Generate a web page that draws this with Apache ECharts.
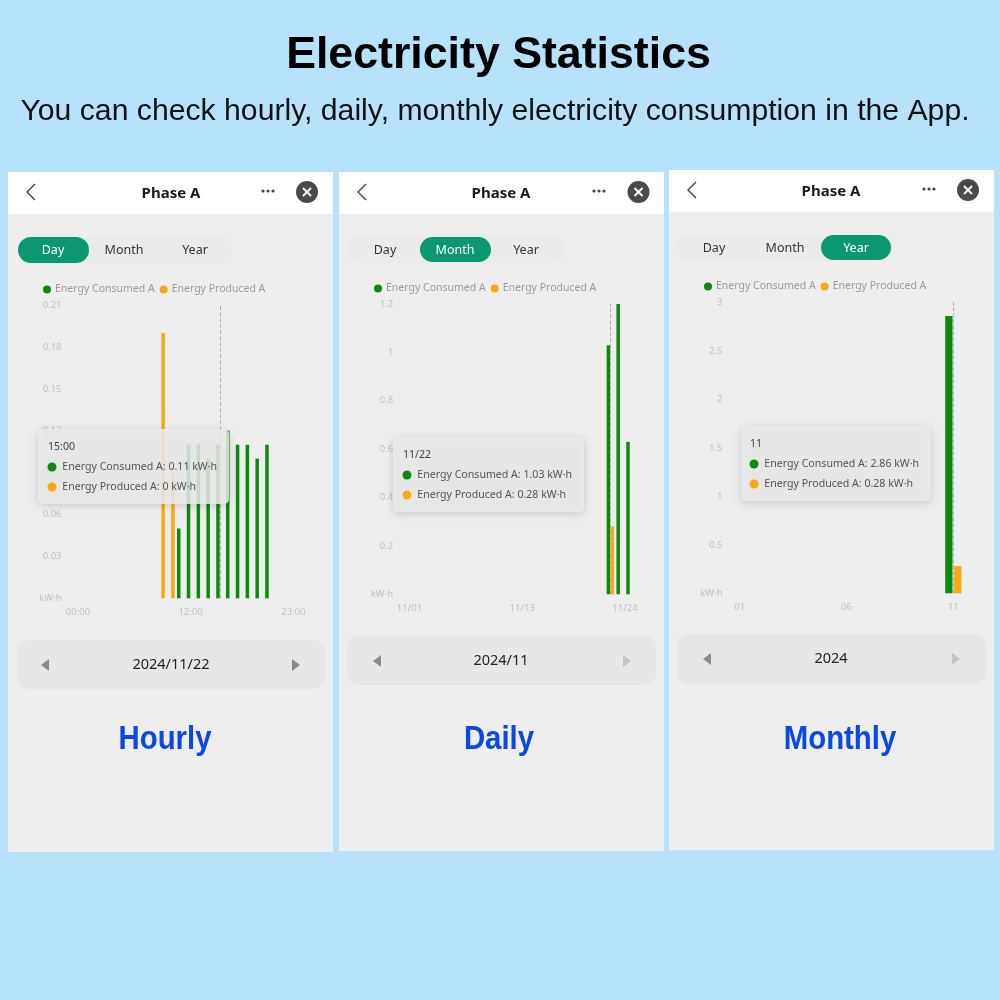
<!DOCTYPE html>
<html><head><meta charset="utf-8">
<style>html,body{margin:0;padding:0;background:#b6e2fa}#c{width:1000px;height:1000px}</style>
<script src="https://cdn.jsdelivr.net/npm/echarts@6/dist/echarts.min.js"></script>
</head><body><div id="c"></div>
<script>
const seriesNames = ['Energy Consumed A', 'Energy Produced A'];
const hourCats = ['00:00','01:00','02:00','03:00','04:00','05:00','06:00','07:00','08:00','09:00','10:00','11:00','12:00','13:00','14:00','15:00','16:00','17:00','18:00','19:00','20:00','21:00','22:00','23:00'];
const hourConsumed = [0,0,0,0,0,0,0,0,0,0,0,0.05,0.11,0.11,0.10,0.11,0.12,0.11,0.11,0.10,0.11,0,0,0];
const hourProduced = [0,0,0,0,0,0,0,0,0,0.19,0.09,0,0,0,0,0,0,0,0,0,0,0,0,0];
const hourLabels = ['00:00','12:00','23:00'];
const dayCats = ['11/01','11/02','11/03','11/04','11/05','11/06','11/07','11/08','11/09','11/10','11/11','11/12','11/13','11/14','11/15','11/16','11/17','11/18','11/19','11/20','11/21','11/22','11/23','11/24'];
const dayConsumed = [0,0,0,0,0,0,0,0,0,0,0,0,0,0,0,0,0,0,0,0,0,1.03,1.2,0.63];
const dayProduced = [0,0,0,0,0,0,0,0,0,0,0,0,0,0,0,0,0,0,0,0,0,0.28,0,0];
const dayLabels = ['11/01','11/13','11/24'];
const monthCats = ['01','02','03','04','05','06','07','08','09','10','11'];
const monthConsumed = [0,0,0,0,0,0,0,0,0,0,2.86];
const monthProduced = [0,0,0,0,0,0,0,0,0,0,0.28];
const monthLabels = ['01','06','11'];

const GREEN='#0b8a0b', ORANGE='#fba714', AXIS='#c2c2c2', UI='"Noto Sans",sans-serif';
const panels=[
 {x:8,w:325,y:172,h:680,hd:42,cats:hourCats,a:hourConsumed,b:hourProduced,labels:hourLabels,sel:'15:00',max:0.21,step:0.03,
  gl:68,gw:235.3,gt:305,gh:293.3,lx:43,ly:284,bw:3.5,gap:'15%',shift:[10,0,10],
  active:0,track:[18,236,214,28],pill:[18,71],seg:[53,124,195],segY:250,cx:171,cy:193,chev:31,dots:268,close:307,
  tip:[38,429],tipDx:0,bar:[17,640,308,49],date:'2024/11/22',dx:171,dy:665,al:45,ar:296,arDim:false,big:'Hourly',bx:165},
 {x:339,w:325,y:172,h:679,hd:42,cats:dayCats,a:dayConsumed,b:dayProduced,labels:dayLabels,sel:'11/22',max:1.2,step:0.2,
  gl:399.6,gw:235.3,gt:304,gh:290.3,lx:374,ly:283,bw:3.5,gap:'15%',shift:[10,0,10],
  active:1,track:[348,236,216,27],pill:[420,71],seg:[385,455,526],segY:250,cx:501,cy:193,chev:362,dots:599,close:638.5,
  tip:[393,437],tipDx:0,bar:[347,636,309,49],date:'2024/11',dx:501,dy:661,al:377,ar:627,arDim:true,big:'Daily',bx:499},
 {x:669,w:325,y:170,h:680,hd:42,cats:monthCats,a:monthConsumed,b:monthProduced,labels:monthLabels,sel:'11',max:3,step:0.5,
  gl:729,gw:235,gt:302.3,gh:291,lx:704,ly:281,bw:7.3,gap:'22%',shift:[0,0,0],
  active:2,track:[678,234,214,27],pill:[821,70],seg:[714,785,856],segY:248,cx:831,cy:191,chev:692,dots:929,close:968,
  tip:[740,426],tipDx:1.5,bar:[677,634,309,50],date:'2024',dx:831,dy:659,al:707,ar:956,arDim:true,big:'Monthly',bx:840}
];
const el=[];
const txt=(x,y,t,font,fill,z,align)=>el.push({type:'text',z:z||1,style:{x,y,text:t,font,fill,textAlign:align||'center',textVerticalAlign:'middle'}});
const rect=(x,y,w,h,fill,r,z,extra)=>el.push({type:'rect',z:z||0,shape:{x,y,width:w,height:h,r:r||0},style:Object.assign({fill},extra||{})});
const circ=(cx,cy,r,fill,z)=>el.push({type:'circle',z:z||1,shape:{cx,cy,r},style:{fill}});
const tri=(pts,fill)=>el.push({type:'polygon',z:1,shape:{points:pts},style:{fill}});
const line=(pts,stroke,w)=>el.push({type:'polyline',z:1,shape:{points:pts},style:{stroke,lineWidth:w,fill:'none'}});

txt(498.5,56,'Electricity Statistics','bold 44.7px "Liberation Sans"','#000');
txt(495,112,'You can check hourly, daily, monthly electricity consumption in the App.','30.2px "Liberation Sans"','#111');

const grids=[],xAxes=[],yAxes=[],series=[],legends=[];
panels.forEach((p,i)=>{
  rect(p.x,p.y,p.w,p.h,'#eeeeee',0,-2);
  rect(p.x,p.y,p.w,p.hd,'#ffffff',0,-1);
  txt(p.cx,p.cy+1,'Phase A','bold 15px '+UI,'#1a1a1a');
  line([[p.chev+4,p.cy-9],[p.chev-4,p.cy-1],[p.chev+4,p.cy+7]],'#444',1.4);
  [-5,0,5].forEach(d=>circ(p.dots+d,p.cy-2,1.6,'#444'));
  circ(p.close,p.cy-1,11,'#4a4a4a');
  line([[p.close-4,p.cy-5],[p.close+4,p.cy+3]],'#fff',2);
  line([[p.close+4,p.cy-5],[p.close-4,p.cy+3]],'#fff',2);
  rect(p.track[0],p.track[1],p.track[2],p.track[3],'#ebebeb',13,-1);
  rect(p.pill[0],p.track[1]+1,p.pill[1],p.track[3]-2,'#0b9870',13,0);
  ['Day','Month','Year'].forEach((s,k)=>txt(p.seg[k],p.segY,s,'12.5px '+UI,k===p.active?'#fff':'#333'));
  rect(p.bar[0],p.bar[1],p.bar[2],p.bar[3],'#e7e7e7',12,-1);
  txt(p.dx,p.dy,p.date,'14.5px '+UI,'#222');
  tri([[p.al+4,p.dy-6],[p.al+4,p.dy+6],[p.al-4,p.dy]],'#8a8a8a');
  tri([[p.ar-4,p.dy-6],[p.ar-4,p.dy+6],[p.ar+4,p.dy]],p.arDim?'#c4c4c4':'#8a8a8a');
  el.push({type:'text',z:1,x:p.bx,y:740,scaleX:0.89,style:{x:0,y:0,text:p.big,font:'bold 33px "Liberation Sans"',fill:'#0a48e6',textAlign:'center',textVerticalAlign:'middle'}});

  const si=p.cats.indexOf(p.sel);
  const [tx,ty]=p.tip;
  rect(tx+p.tipDx,ty,191-p.tipDx,75,'rgba(236,236,236,0.84)',5,100,{shadowBlur:9,shadowColor:'rgba(0,0,0,0.18)',shadowOffsetY:2});
  txt(tx+10,ty+18,p.sel,'10.6px '+UI,'#444',101,'left');
  circ(tx+14,ty+38,4.5,GREEN,101);
  txt(tx+24.3,ty+38,seriesNames[0]+': '+p.a[si]+' kW·h','10.6px '+UI,'#555',101,'left');
  circ(tx+14,ty+58,4.5,ORANGE,101);
  txt(tx+24.3,ty+58,seriesNames[1]+': '+p.b[si]+' kW·h','10.6px '+UI,'#555',101,'left');

  grids.push({left:p.gl,width:p.gw,top:p.gt,height:p.gh,containLabel:false});
  xAxes.push({type:'category',gridIndex:i,boundaryGap:true,
    data:p.cats.map(c=>{const k=p.labels.indexOf(c);
      return (k===0&&p.shift[0])?{value:c,textStyle:{padding:[0,0,0,p.shift[0]]}}:(k===2&&p.shift[2])?{value:c,textStyle:{padding:[0,p.shift[2],0,0]}}:c;}),
    axisLine:{show:false},axisTick:{show:false},splitLine:{show:false},
    axisLabel:{color:AXIS,fontSize:9.5,fontFamily:UI,margin:9,hideOverlap:false,interval:(idx,v)=>p.labels.includes(v)}});
  yAxes.push({type:'value',gridIndex:i,min:0,max:p.max,interval:p.step,
    axisLine:{show:false},axisTick:{show:false},splitLine:{show:false},
    axisLabel:{color:AXIS,fontSize:9.5,fontFamily:UI,margin:6.5,formatter:v=>v===0?'kW·h':String(v)}});
  series.push({type:'bar',name:seriesNames[0],xAxisIndex:i,yAxisIndex:i,data:p.a,barWidth:p.bw,barGap:p.gap,itemStyle:{color:GREEN}});
  series.push({type:'bar',name:seriesNames[1],xAxisIndex:i,yAxisIndex:i,data:p.b,barWidth:p.bw,barGap:p.gap,itemStyle:{color:ORANGE}});
  series.push({type:'line',name:'pointer',xAxisIndex:i,yAxisIndex:i,data:[],silent:true,
    markLine:{silent:true,symbol:'none',label:{show:false},lineStyle:{color:'#adadad',type:'dashed',width:1},data:[{xAxis:p.sel}],animation:false}});
  legends.push({left:p.lx,top:p.ly,icon:'circle',itemWidth:8,itemHeight:8,itemGap:5,padding:0,selectedMode:false,data:seriesNames,
    textStyle:{color:'#9a9a9a',fontSize:10.5,fontFamily:UI,padding:[0,0,0,-1]}});
});

const chart=echarts.init(document.getElementById('c'),null,{renderer:'canvas'});
chart.setOption({animation:false,backgroundColor:'#b6e2fa',grid:grids,xAxis:xAxes,yAxis:yAxes,series,legend:legends,graphic:{elements:el}});
</script></body></html>
